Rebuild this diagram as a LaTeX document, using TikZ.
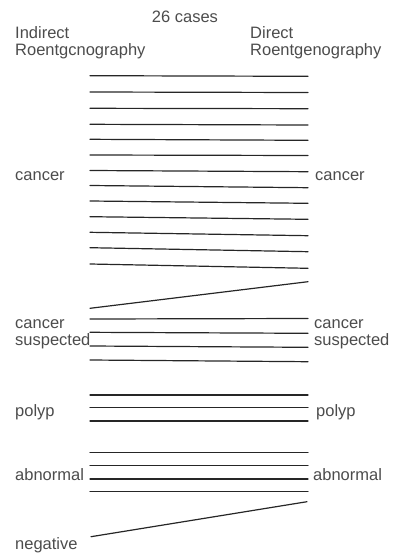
\documentclass[tikz,border=0pt]{standalone}
\usepackage{fontspec}
\setmainfont{Liberation Sans}
\usepackage{tkz-euclide}
\definecolor{LinkClr}{rgb}{0.15,0.15,0.15}
\definecolor{TextClr}{rgb}{0.3,0.3,0.3}
\tikzset{lbl/.style={anchor=base west,inner sep=0pt,text=TextClr,
  font=\fontsize{16.5}{18}\selectfont}}

\begin{document}
\begin{tikzpicture}[x=1pt,y=-1pt]
\useasboundingbox (0,0) rectangle (393,557);
\tkzSetUpLine[line width=1.2pt,color=LinkClr]

% cancer -> cancer
\tkzDefPoints{90/75.7/L1,308/76.3/R1,90/92/L2,308/92.5/R2,
  90/108.3/L3,308/108.7/R3,90/124.3/L4,308/125/R4,
  90/139.3/L5,308/140.3/R5,90/155/L6,308/155.5/R6,
  90/170.5/L7,308/171.7/R7,90/185.5/L8,308/187.7/R8,
  90/201/L9,308/203.3/R9,90/216.7/L10,308/219.3/R10,
  90/232.3/L11,308/235.7/R11,90/247.7/L12,308/251.7/R12,
  90/264/L13,308/268.3/R13}
% cancer suspected -> cancer
\tkzDefPoints{90/308.3/L14,308/281.7/R14}
% cancer suspected -> cancer suspected
\tkzDefPoints{90/319/L15,308/318.5/R15,90/332.3/L16,308/333.3/R16,
  90/346/L17,308/347.3/R17,90/360/L18,308/361.7/R18}
% polyp -> polyp
\tkzDefPoints{90/395/L19,308/395/R19,90/407.3/L20,308/407.3/R20,
  90/421/L21,308/421/R21}
% abnormal -> abnormal
\tkzDefPoints{90/452.7/L22,308/452.7/R22,90/465.7/L23,308/465.7/R23,
  90/479/L24,308/479/R24,90/491.7/L25,308/491.7/R25}
% negative -> abnormal
\tkzDefPoints{91/536.7/L26,307/501.7/R26}

\tkzDrawSegments(L1,R1 L2,R2 L3,R3 L4,R4 L5,R5 L6,R6 L7,R7 L8,R8 L9,R9 L10,R10 L11,R11 L12,R12 L13,R13)
\tkzDrawSegments(L14,R14)
\tkzDrawSegments(L15,R15 L16,R16 L17,R17 L18,R18)
\tkzDrawSegments(L19,R19 L20,R20 L21,R21)
\tkzDrawSegments(L22,R22 L23,R23 L24,R24 L25,R25)
\tkzDrawSegments(L26,R26)

\node[lbl,anchor=base] (cases) at (185,22) {26 cases};
\node[lbl] (ind) at (15,38.5) {Indirect};
\node[lbl] (indR) at (15,55) {Roentgcnography};
\node[lbl] (dir) at (250,38.5) {Direct};
\node[lbl] (dirR) at (250,55) {Roentgenography};

\node[lbl] (lcan) at (15,180.7) {cancer};
\node[lbl] (rcan) at (315,180) {cancer};
\node[lbl] (lsus) at (15,328.5) {cancer};
\node[lbl] (lsusB) at (15,345.5) {suspected};
\node[lbl] (rsus) at (314,328.5) {cancer};
\node[lbl] (rsusB) at (314,345.5) {suspected};
\node[lbl] (lpol) at (15,416) {polyp};
\node[lbl] (rpol) at (316,416) {polyp};
\node[lbl] (labn) at (15,480.5) {abnormal};
\node[lbl] (rabn) at (313,480.5) {abnormal};
\node[lbl] (lneg) at (15,549) {negative};

\end{tikzpicture}
\end{document}
